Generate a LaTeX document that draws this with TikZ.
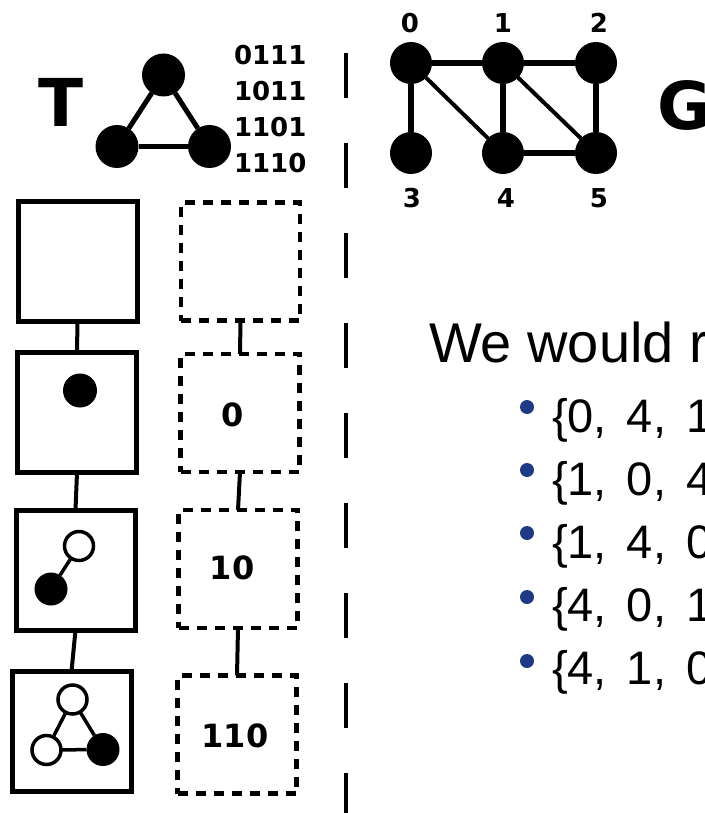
\documentclass[tikz,border=0pt]{standalone}
\usepackage{fontspec}
\setmainfont{Liberation Sans}
\newfontfamily\dvs{DejaVu Sans}
\definecolor{bulletblue}{HTML}{1F3A85}
\tikzset{
  every node/.style={inner sep=0pt, outer sep=0pt},
  tvtx/.style={circle, fill=black, minimum size=43pt},
  gvtx/.style={circle, fill=black, minimum size=42pt},
  tedge/.style={line width=5pt},
  gedge/.style={line width=6pt},
  gdiag/.style={line width=4pt},
  bigletter/.style={font={\dvs\bfseries\fontsize{66}{66}\selectfont}},
  smalllabel/.style={font={\dvs\bfseries\fontsize{26}{26}\selectfont}},
  boxlabel/.style={font={\dvs\bfseries\fontsize{32}{32}\selectfont}},
  solidbox/.style={draw, line width=5pt, minimum width=119pt, minimum height=120pt},
  dashbox/.style={draw, line width=4.8pt, dash pattern=on 10pt off 8pt, minimum width=119pt, minimum height=118pt},
  link/.style={line width=4pt},
  opendot/.style={circle, draw, line width=3.5pt, fill=white, minimum size=29pt},
  fulldot/.style={circle, fill=black, minimum size=33pt},
  mini/.style={line width=3.5pt},
  bullet/.style={circle, fill=bulletblue, minimum size=14pt},
  headtext/.style={font={\fontsize{56}{56}\selectfont}},
  itemtext/.style={font={\fontsize{47}{47}\selectfont\spaceskip=20pt\relax}},
}
\begin{document}
\begin{tikzpicture}[x=1pt, y=-1pt]
\useasboundingbox (0,0) rectangle (704,813);
\clip (0,0) rectangle (704,813);

% --- T ---
\node[bigletter, anchor=base] (Tlab) at (61,127) {T};
\node[tvtx] (t1) at (163.5,75) {};
\node[tvtx] (t2) at (117,146.5) {};
\node[tvtx] (t3) at (209.5,146.5) {};
\draw[tedge] (t1) -- (t2);
\draw[tedge] (t1) -- (t3);
\draw[tedge] (t2) -- (t3);

\node[smalllabel, anchor=base west] (bits1) at (234,65) {0111};
\node[smalllabel, anchor=base west] (bits2) at (234,100.5) {1011};
\node[smalllabel, anchor=base west] (bits3) at (234,136.5) {1101};
\node[smalllabel, anchor=base west] (bits4) at (234,172) {1110};

% --- separator ---
\coordinate (sepTop) at (346,53);
\coordinate (sepBot) at (346,830);
\draw[line width=4pt, dash pattern=on 45pt off 45pt] (sepTop) -- (sepBot);

% --- G ---
\node[gvtx] (g0) at (411,63) {};
\node[gvtx] (g1) at (503,63) {};
\node[gvtx] (g2) at (596,63) {};
\node[gvtx] (g3) at (411,153) {};
\node[gvtx] (g4) at (503,153) {};
\node[gvtx] (g5) at (596,153) {};
\draw[gedge] (g0) -- (g1);
\draw[gedge] (g1) -- (g2);
\draw[gedge] (g0) -- (g3);
\draw[gedge] (g1) -- (g4);
\draw[gedge] (g2) -- (g5);
\draw[gedge] (g4) -- (g5);
\draw[gdiag] (g0) -- (g4);
\draw[gdiag] (g1) -- (g5);

\node[smalllabel, anchor=base] (l0) at (410,33) {0};
\node[smalllabel, anchor=base] (l1) at (503,33) {1};
\node[smalllabel, anchor=base] (l2) at (599,33) {2};
\node[smalllabel, anchor=base] (l3) at (412,207) {3};
\node[smalllabel, anchor=base] (l4) at (506,207) {4};
\node[smalllabel, anchor=base] (l5) at (599,207) {5};

\node[bigletter, anchor=base west] (Glab) at (657,130) {G};

% --- solid boxes ---
\node[solidbox] (s1) at (77.5,261) {};
\node[solidbox] (s2) at (77,412.5) {};
\node[solidbox] (s3) at (75.5,570) {};
\node[solidbox] (s4) at (71.5,731.5) {};
\draw[link] (s1.south) -- (s2.north);
\draw[link] (s2.south) -- (s3.north);
\draw[link] (s3.south) -- (s4.north);

\node[fulldot, minimum size=34pt] (d2) at (80,390.5) {};

\node[opendot] (d3a) at (79,546) {};
\node[fulldot] (d3b) at (51,589) {};
\draw[mini] (d3a) -- (d3b);

\node[opendot] (d4a) at (72.5,699.5) {};
\node[opendot] (d4b) at (46.5,750) {};
\node[fulldot] (d4c) at (103,749.5) {};
\draw[mini] (d4a) -- (d4b);
\draw[mini] (d4a) -- (d4c);
\draw[mini] (d4b) -- (d4c);

% --- dashed boxes ---
\node[dashbox] (q1) at (240.5,261.5) {};
\node[dashbox] (q2) at (240,413) {};
\node[dashbox] (q3) at (238,569) {};
\node[dashbox] (q4) at (237,734.5) {};
\draw[link] (q1.south) -- (q2.north);
\draw[link] (q2.south) -- (q3.north);
\draw[link] (q3.south) -- (q4.north);

\node[boxlabel, anchor=base] (ql2) at (233,426) {0};
\node[boxlabel, anchor=base] (ql3) at (232,579) {10};
\node[boxlabel, anchor=base] (ql4) at (235,747) {110};

% --- text ---
\node[headtext, anchor=base west] (head) at (429,362) {We would r};

\node[bullet] (bu1) at (527,407) {};
\node[bullet] (bu2) at (527,470) {};
\node[bullet] (bu3) at (527,533) {};
\node[bullet] (bu4) at (527,597) {};
\node[bullet] (bu5) at (527,661) {};
\node[itemtext, anchor=base west] (it1) at (552,432) {\{0, 4, 1};
\node[itemtext, anchor=base west] (it2) at (552,495) {\{1, 0, 4};
\node[itemtext, anchor=base west] (it3) at (552,558) {\{1, 4, 0};
\node[itemtext, anchor=base west] (it4) at (552,621) {\{4, 0, 1};
\node[itemtext, anchor=base west] (it5) at (552,684) {\{4, 1, 0};
\end{tikzpicture}
\end{document}
